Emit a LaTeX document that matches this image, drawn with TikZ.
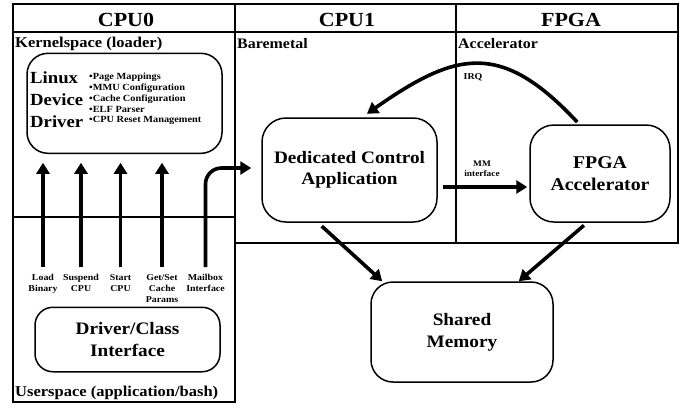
\documentclass[tikz,border=0pt]{standalone}
\usepackage{fontspec}
\setmainfont{Liberation Serif}[FakeStretch=1.1]
\usetikzlibrary{arrows.meta}

\newcommand\fsz[2]{\fontsize{#1}{#2}\selectfont\bfseries}

\tikzset{
  frame/.style={line width=1.6pt, line cap=rect},
  rbox/.style={draw, line width=1.5pt, rounded corners=#1, inner sep=0pt, align=center},
  txt/.style={inner sep=0pt, align=center},
  flow/.style={line width=3.6pt, -{Triangle[length=11pt,width=13pt]}},
}

\begin{document}
\begin{tikzpicture}[x=1pt,y=-1pt]
\useasboundingbox (0,0) rectangle (687,408);

% ---- partition frame ----
\draw[frame] (13,4) -- (678,4);
\draw[frame] (13,32) -- (678,32);
\draw[frame] (13,4) -- (13,402) -- (235,402);
\draw[frame] (235,4) -- (235,402);
\draw[frame] (456,4) -- (456,243);
\draw[frame] (678,4) -- (678,243) -- (235,243);
\draw[frame] (13,217) -- (235,217);

% ---- column headers ----
\node[txt, font=\fsz{20}{24}] (h0) at (126,19.5) {CPU0};
\node[txt, font=\fsz{20}{24}] (h1) at (347,19.5) {CPU1};
\node[txt, font=\fsz{20}{24}] (h2) at (571,19.5) {FPGA};

% ---- region labels ----
\node[txt, anchor=base west, font=\fsz{15}{18}] (ks) at (15,47.7) {Kernelspace (loader)};
\node[txt, anchor=base west, font=\fsz{15}{18}] (us) at (15,396) {Userspace (application/bash)};
\node[txt, anchor=base west, font=\fsz{14.5}{18}] (bm) at (237,48) {Baremetal};
\node[txt, anchor=base west, font=\fsz{14.5}{18}] (ac) at (458,48) {Accelerator};

% ---- Linux device driver ----
\node[rbox=21pt, minimum width=195pt, minimum height=100pt] (ldd) at (124.5,103.3) {};
\node[txt, anchor=west, align=left, font=\fsz{17}{21.7}] (lddt) at (30,99.5) {Linux\\Device\\Driver};
\node[txt, anchor=west, align=left, font=\fsz{9.4}{10.75}] (lddl) at (89,99.2)
  {•Page Mappings\\•MMU Configuration\\•Cache Configuration\\•ELF Parser\\•CPU Reset Management};

% ---- user-space calls ----
\node[txt, anchor=north, font=\fsz{9}{10.7}] (lb) at (43,274.5) {Load\\Binary};
\node[txt, anchor=north, font=\fsz{9}{10.7}] (sc) at (81,274.5) {Suspend\\CPU};
\node[txt, anchor=north, font=\fsz{9}{10.7}] (st) at (120.5,274.5) {Start\\CPU};
\node[txt, anchor=north, font=\fsz{9}{10.7}] (gs) at (162,274.5) {Get/Set\\Cache\\Params};
\node[txt, anchor=north, font=\fsz{9}{10.7}] (mb) at (205.5,274.5) {Mailbox\\Interface};

\node[rbox=18pt, minimum width=185pt, minimum height=64.5pt, font=\fsz{17.5}{22.5}] (dci) at (127.5,339.5) {Driver/Class\\Interface};

% ---- CPU1 / FPGA / memory blocks ----
\node[rbox=24pt, minimum width=175pt, minimum height=104pt, font=\fsz{17.5}{21.5}] (dca) at (349.5,170) {Dedicated Control\\Application};
\node[rbox=24pt, minimum width=140pt, minimum height=97pt, font=\fsz{18}{22.5}] (fa) at (600,173.5) {FPGA\\Accelerator};
\node[rbox=22pt, minimum width=182pt, minimum height=100pt, font=\fsz{17.5}{22}] (sm) at (462,332) {Shared\\Memory};

% ---- connectors ----
\foreach \n in {lb,sc,st,gs}
  \draw[flow, shorten <=7.5pt, shorten >=8.7pt] (\n.north) -- (\n.north |- ldd.south);

\draw[flow, rounded corners=16pt, shorten <=7.5pt, shorten >=10pt]
  (mb.north) |- ([yshift=2pt]dca.west);

\draw[flow, shorten <=5pt, shorten >=2pt]
  ([yshift=-17pt]dca.east) -- ([yshift=-17pt]dca.east -| fa.west);
\node[txt, font=\fsz{8.5}{10}] (mml) at (482,168.7) {MM\\interface};

\draw[flow, shorten <=3pt, shorten >=6pt]
  ([xshift=50pt]fa.north west) to[out=133, in=35, looseness=1.35] ([xshift=12.5pt]dca.north);
\node[txt, font=\fsz{9}{10}] (irq) at (473,77) {IRQ};

\draw[flow, shorten <=5pt]
  ([xshift=-31.5pt]dca.south) -- ([xshift=12pt]sm.north west);
\draw[flow, shorten <=4pt]
  ([xshift=-13pt]fa.south) -- ([xshift=-35pt]sm.north east);
\end{tikzpicture}
\end{document}
